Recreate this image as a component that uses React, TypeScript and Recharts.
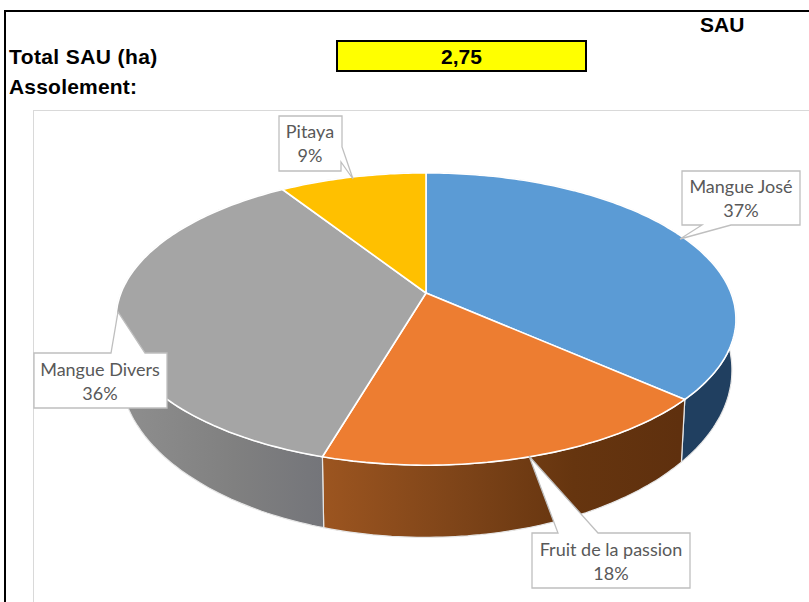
import { PieChart, Pie } from 'recharts'

const names = ['Mangue José', 'Fruit de la passion', 'Mangue Divers', 'Pitaya']
const surfaces = [1.005, 0.495, 1.0, 0.25]
const topColors = ['#5b9bd5', '#ed7d31', '#a5a5a5', '#ffc000']
const wallColors = ['#203f60', 'url(#wallOrange)', 'url(#wallGray)', '#7f6000']

const rows = names.map((name, i) => ({
  name,
  value: surfaces[i],
  fill: topColors[i],
  wall: wallColors[i],
}))

// the pie is seen from above with perspective: k tightens the back of the disc
const PERSPECTIVE = 0.178
const TILT = 0.464
const BOTTOM_SCALE = 0.987
const BOTTOM_TILT = 0.531
const DEPTH = 47.3

const FONT_HEAD = '"Liberation Sans", Arial, sans-serif'
const FONT_LABEL = 'Lato, sans-serif'

function rimPoint(cx: number, cy: number, r: number, deg: number, scale: number, tilt: number, drop: number) {
  // recharts gives math angles, 90 is the top of the pie
  const t = ((90 - deg) * Math.PI) / 180
  const u = Math.sin(t)
  const v = -Math.cos(t)
  const w = 1 - PERSPECTIVE * v
  return [cx + (r * scale * u) / w, cy + drop + (r * tilt * v) / w]
}

function rimSamples(props: any, scale: number, tilt: number, drop: number) {
  const { cx, cy, outerRadius, startAngle, endAngle } = props
  const steps = Math.max(2, Math.ceil(Math.abs(endAngle - startAngle)))
  const pts = []
  for (let i = 0; i <= steps; i++) {
    const deg = startAngle + ((endAngle - startAngle) * i) / steps
    pts.push(rimPoint(cx, cy, outerRadius, deg, scale, tilt, drop))
  }
  return pts
}

function toPath(pts: number[][]) {
  return pts.map((p, i) => `${i ? 'L' : 'M'}${p[0].toFixed(1)},${p[1].toFixed(1)}`).join(' ')
}

function TopFace(props: any) {
  const rim = rimSamples(props, 1, TILT, 0)
  const d = `M${props.cx},${props.cy} ${toPath(rim).replace('M', 'L')} Z`
  return <path d={d} fill={props.fill} stroke="#ffffff" strokeWidth={1.6} strokeLinejoin="round" />
}

function WallFace(props: any) {
  const top = rimSamples(props, 1, TILT, 0)
  const bottom = rimSamples(props, BOTTOM_SCALE, BOTTOM_TILT, DEPTH).reverse()
  const d = `${toPath(top)} ${toPath(bottom).replace('M', 'L')} Z`
  return <path d={d} fill={props.payload.wall} stroke="#e6e6e6" strokeWidth={1.2} strokeLinejoin="round" />
}

// callout outlines, box plus pointer, and where the two text lines sit
const callouts = [
  {
    outline: 'M682,171 H800 V225 H731 L680,239 L702,225 H682 Z',
    x: 741,
    y1: 193,
    y2: 217,
  },
  {
    outline: 'M532,533 H558 L529,456 L598,533 H690 V588 H532 Z',
    x: 611,
    y1: 556,
    y2: 580,
  },
  {
    outline: 'M34,353 H111 L118,312 L145,353 H167 V408 H34 Z',
    x: 100,
    y1: 376,
    y2: 400,
  },
  {
    outline: 'M279,116 H342 V147 L353,179 L341,162 V171 H279 Z',
    x: 310,
    y1: 138,
    y2: 162,
  },
]

function Callout(props: any) {
  const c = callouts[props.index]
  return (
    <g>
      <path d={c.outline} fill="#ffffff" stroke="#bfbfbf" strokeWidth={1.3} />
      <text x={c.x} y={c.y1} textAnchor="middle" fontFamily={FONT_LABEL} fontSize={18} fill="#595959">
        {names[props.index]}
      </text>
      <text x={c.x} y={c.y2} textAnchor="middle" fontFamily={FONT_LABEL} fontSize={18} fill="#595959">
        {Math.round(props.percent * 100)}%
      </text>
    </g>
  )
}

function Head({ x, baseline, width, center, spacing, children }: any) {
  return (
    <div
      style={{
        position: 'absolute',
        left: x,
        top: baseline - 19,
        width,
        textAlign: center ? 'center' : 'left',
        font: `bold 21px/24px ${FONT_HEAD}`,
        letterSpacing: spacing,
        color: '#000',
        whiteSpace: 'nowrap',
      }}
    >
      {children}
    </div>
  )
}

export default function App() {
  return (
    <div style={{ position: 'absolute', left: 0, top: 0, width: 809, height: 602, overflow: 'hidden', background: '#fff' }}>
      <div style={{ position: 'absolute', left: 0, top: 10, width: 809, height: 2, marginLeft: 4, background: '#000' }} />
      <div style={{ position: 'absolute', left: 4, top: 10, width: 2, height: 592, background: '#000' }} />
      <div style={{ position: 'absolute', left: 33, top: 110, width: 776, height: 492, borderLeft: '1.5px solid #d9d9d9', borderTop: '1.5px solid #d9d9d9' }} />
      <div style={{ position: 'absolute', left: 336, top: 40, width: 247, height: 28, background: '#ffff00', border: '2px solid #000' }} />
      <Head x={700} baseline={32}>SAU</Head>
      <Head x={9} baseline={64} spacing={0.4}>Total SAU (ha)</Head>
      <Head x={336} baseline={64} width={251} center>2,75</Head>
      <Head x={9} baseline={94} spacing={0.2}>Assolement:</Head>

      <div style={{ position: 'absolute', left: 0, top: 0 }}>
        <PieChart width={809} height={602} margin={{ top: 0, right: 0, bottom: 0, left: 0 }}>
          <defs>
            <linearGradient id="wallOrange" gradientUnits="userSpaceOnUse" x1={323} y1={0} x2={680} y2={0}>
              <stop offset="0" stopColor="#9c5520" />
              <stop offset="0.4" stopColor="#7c4318" />
              <stop offset="0.7" stopColor="#66350f" />
              <stop offset="1" stopColor="#5f300e" />
            </linearGradient>
            <linearGradient id="wallGray" gradientUnits="userSpaceOnUse" x1={125} y1={0} x2={323} y2={0}>
              <stop offset="0" stopColor="#8e8e8e" />
              <stop offset="0.55" stopColor="#808080" />
              <stop offset="1" stopColor="#74757a" />
            </linearGradient>
          </defs>
          <Pie
            data={rows}
            dataKey="value"
            nameKey="name"
            cx={426}
            cy={293}
            outerRadius={305}
            startAngle={90}
            endAngle={-270}
            paddingAngle={0}
            shape={WallFace}
            isAnimationActive={false}
          />
          <Pie
            data={rows}
            dataKey="value"
            nameKey="name"
            cx={426}
            cy={293}
            outerRadius={305}
            startAngle={90}
            endAngle={-270}
            paddingAngle={0}
            shape={TopFace}
            label={Callout}
            labelLine={false}
            isAnimationActive={false}
          />
        </PieChart>
      </div>
    </div>
  )
}
